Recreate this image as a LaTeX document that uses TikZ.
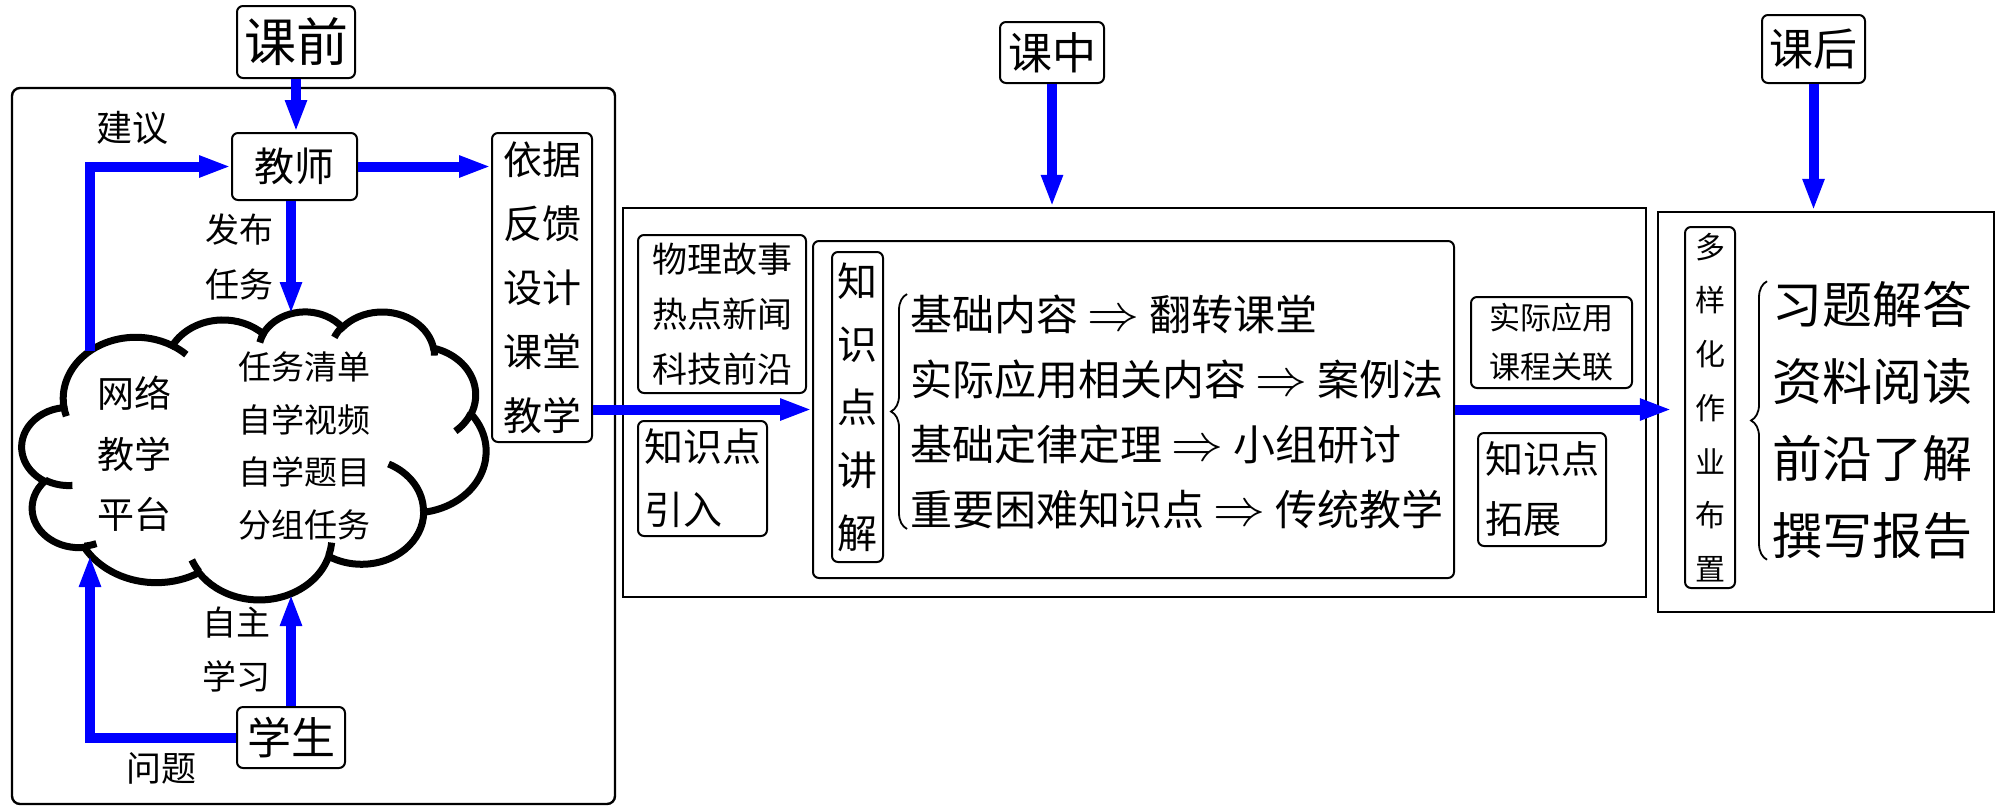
\documentclass[tikz,border=0pt]{standalone}
\usepackage{fontspec}
\setmainfont{Noto Sans CJK SC}
\usepackage{graphicx}
\usepackage{xcolor}
\usepackage{tikz}
\usetikzlibrary{arrows.meta, calc, decorations.pathreplacing}
\definecolor{flowblue}{HTML}{0000FF}
\definecolor{inkblack}{HTML}{000000}
\newcommand{\thento}{\scalebox{1.25}{$\Rightarrow$}}

\begin{document}
\begin{tikzpicture}[x=0.5pt, y=-0.5pt,
  box/.style={draw=inkblack, line width=1pt, rounded corners=3pt, inner sep=0pt, align=center},
  frame/.style={draw=inkblack, line width=1.2pt, inner sep=0pt},
  flow/.style={draw=flowblue, line width=5pt, -{Triangle[length=16pt, width=10pt]}},
  cloudline/.style={draw=inkblack, line width=3.5pt},
  brc/.style={draw=inkblack, line width=0.9pt, decorate, decoration={brace, amplitude=8pt}},
  lbl/.style={inner sep=0pt, align=center}]
  \useasboundingbox (0,0) rectangle (2000,810);

  \foreach \nm/\x/\y/\w/\h/\fs/\txt in {
    pre/296/42/59/36/26/课前,
    inclass/1052/52.5/52/30.5/22/课中,
    post/1813.5/49/51.5/34/22/课后} {
    \node[box, minimum width=\w*1pt, minimum height=\h*1pt,
      font=\fontsize{\fs}{\fs}\selectfont] (\nm) at (\x,\y) {\txt};
  }

  \node[frame, rounded corners=4pt, minimum width=301.5pt, minimum height=358pt] (preframe) at (313.5,446) {};
  \node[frame, minimum width=511.5pt, minimum height=194.5pt] (midframe) at (1134.5,402.5) {};
  \node[frame, minimum width=168pt, minimum height=200pt] (postframe) at (1826,412) {};

  \node[box, minimum width=62.5pt, minimum height=33.5pt, font=\fontsize{20}{20}\selectfont] (teacher) at (294.5,166.5) {教师};
  \node[box, minimum width=50pt, minimum height=154.5pt, font=\fontsize{19.5}{32}\selectfont] (basis) at (542,287.5) {依据\\反馈\\设计\\课堂\\教学};
  \node[box, minimum width=54pt, minimum height=30.5pt, font=\fontsize{22}{22}\selectfont] (student) at (291,737.5) {学生};

  \begin{scope}[shift={(22,311)}, x=0.53704pt, y=-0.3332pt]
    \draw[cloudline] (39.00,143.70)
      arc[start angle=-187.75, delta angle=128.12, x radius=67.53, y radius=91.90]
      arc[start angle=-152.03, delta angle=106.54, x radius=53.33, y radius=72.67]
      arc[start angle=-153.48, delta angle=116.15, x radius=43.65, y radius=59.45]
      arc[start angle=-139.70, delta angle=129.49, x radius=48.57, y radius=65.95]
      arc[start angle=-74.76, delta angle=97.97, x radius=53.33, y radius=72.73]
      arc[start angle=-37.53, delta angle=119.39, x radius=67.75, y radius=92.20]
      arc[start angle=0.46, delta angle=121.50, x radius=57.85, y radius=78.67]
      arc[start angle=16.84, delta angle=129.41, x radius=67.52, y radius=92.15]
      arc[start angle=59.03, delta angle=91.14, x radius=77.20, y radius=105.43]
      arc[start angle=-276.70, delta angle=139.79, x radius=43.60, y radius=59.18]
      arc[start angle=-239.64, delta angle=143.75, x radius=43.45, y radius=59.45]
      -- cycle;
    \draw[cloudline]
      (46.93,261.77) arc[start angle=85.54, delta angle=34.82, x radius=43.45, y radius=59.45]
      (69.28,348.99) arc[start angle=68.25, delta angle=15.05, x radius=43.60, y radius=59.18]
      (164.78,390.90) arc[start angle=146.25, delta angle=12.23, x radius=67.52, y radius=92.15]
      (288.27,347.51) arc[start angle=4.74, delta angle=12.10, x radius=67.52, y radius=92.15]
      (341.29,229.54) arc[start angle=-63.99, delta angle=64.45, x radius=57.85, y radius=78.67]
      (417.98,153.54) arc[start angle=23.21, delta angle=26.44, x radius=53.33, y radius=72.73]
      (383.24,54.26) arc[start angle=-10.21, delta angle=11.03, x radius=48.57, y radius=65.95]
      (290.78,39.52) arc[start angle=-156.28, delta angle=16.58, x radius=48.57, y radius=65.95]
      (221.41,47.20) arc[start angle=-167.73, delta angle=14.25, x radius=43.65, y radius=59.45]
      (140.00,51.92) arc[start angle=-59.63, delta angle=13.90, x radius=67.53, y radius=91.90]
      (41.27,157.89) arc[start angle=163.19, delta angle=9.06, x radius=67.53, y radius=91.90];
  \end{scope}

  \node[lbl, font=\fontsize{18.5}{30.25}\selectfont] (platform) at (134,454) {网络\\教学\\平台};
  \node[lbl, font=\fontsize{16.5}{26.2}\selectfont] (tasks) at (304,446) {任务清单\\自学视频\\自学题目\\分组任务};
  \node[lbl, font=\fontsize{18}{18}\selectfont] (advise) at (132,128) {建议};
  \node[lbl, font=\fontsize{17}{27.5}\selectfont] (publish) at (239,257.5) {发布\\任务};
  \node[lbl, font=\fontsize{17}{27}\selectfont] (selfstudy) at (236,649) {自主\\学习};
  \node[lbl, font=\fontsize{17.5}{17.5}\selectfont] (question) at (161,768) {问题};

  \coordinate (cltop) at (291,314);
  \coordinate (clbot) at (291,594);
  \coordinate (clnw) at (90,351);
  \coordinate (clsw) at (90,555);

  \draw[flow] (pre.south) -- (pre.south |- teacher.north);
  \draw[flow] (cltop |- teacher.south) -- (cltop);
  \draw[flow] (teacher.east) -- (teacher.east -| basis.west);
  \draw[flow] (clnw) |- (teacher.west);
  \draw[flow] (student.north -| clbot) -- (clbot);
  \draw[flow] (student.west) -| (clsw);

  \node[box, minimum width=84pt, minimum height=79pt, font=\fontsize{17.5}{27.5}\selectfont] (story) at (722,314) {物理故事\\热点新闻\\科技前沿};
  \node[box, align=left, minimum width=64.5pt, minimum height=57.5pt, font=\fontsize{19.5}{31.5}\selectfont] (intro) at (702.5,478.5) {知识点\\引入};
  \node[box, minimum width=320.5pt, minimum height=168.5pt] (lecture) at (1133.5,409.5) {};
  \node[box, minimum width=25.5pt, minimum height=155pt, font=\fontsize{20}{31.5}\selectfont] (lecv) at (857.5,407) {知\\识\\点\\讲\\解};
  \node[lbl, anchor=west, align=left, font=\fontsize{21}{32.5}\selectfont] (methods) at (910,411.5)
    {基础内容 \thento{} 翻转课堂\\实际应用相关内容 \thento{} 案例法\\基础定律定理 \thento{} 小组研讨\\重要困难知识点 \thento{} 传统教学};
  \draw[brc] ([xshift=-1.5pt]methods.south west) -- ([xshift=-1.5pt]methods.north west);
  \node[box, minimum width=80.5pt, minimum height=45.5pt, font=\fontsize{15.5}{24.5}\selectfont] (apply) at (1551.5,342.5) {实际应用\\课程关联};
  \node[box, align=left, minimum width=64pt, minimum height=56.5pt, font=\fontsize{19}{30}\selectfont] (extend) at (1542,489.5) {知识点\\拓展};

  \node[box, minimum width=25pt, minimum height=180.5pt, font=\fontsize{15}{26.85}\selectfont] (diverse) at (1710,407.5) {多\\样\\化\\作\\业\\布\\置};
  \node[lbl, anchor=west, align=left, font=\fontsize{25}{38.5}\selectfont] (homework) at (1772,420.5) {习题解答\\资料阅读\\前沿了解\\撰写报告};
  \draw[brc] ([xshift=-2.5pt]homework.south west) -- ([xshift=-2.5pt]homework.north west);

  \draw[flow] (inclass.south) -- (inclass.south |- midframe.north);
  \draw[flow] (post.south) -- (post.south |- postframe.north);
  \draw[flow] (basis.east |- lecture.west) -- (lecture.west);
  \draw[flow, shorten >=-7.5pt] (lecture.east) -- (lecture.east -| postframe.west);
\end{tikzpicture}
\end{document}
